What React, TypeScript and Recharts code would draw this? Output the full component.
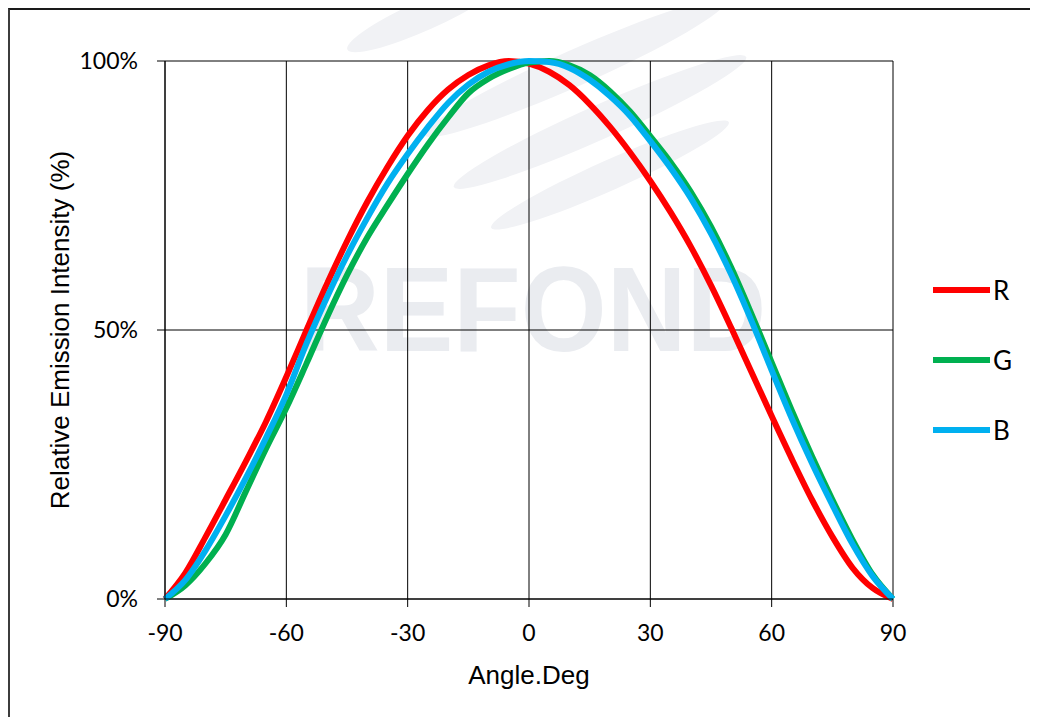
import React from "react";
import { LineChart, Line, XAxis, YAxis, CartesianGrid, Label } from "recharts";

// angle in degrees, intensity in % of peak
const angles = [
  -90, -85, -80, -75, -70, -65, -60, -55, -50, -45, -40, -35, -30, -25, -20, -15, -10, -5,
  0, 5, 10, 15, 20, 25, 30, 35, 40, 45, 50, 55, 60, 65, 70, 75, 80, 85, 90,
];
const red = [
  0, 4.8, 11.5, 18.5, 25.6, 33, 41.3, 50, 58.5, 66.5, 73.8, 80.3, 86.1, 90.9, 94.7, 97.4, 99.2, 100,
  99.5, 98, 95.5, 92, 87.8, 83, 77.7, 71.9, 65.5, 58.3, 50.4, 42.2, 34, 26, 18.4, 11.6, 5.8, 2, 0,
];
const green = [
  0, 2.5, 6.6, 12, 20, 28, 35.5, 43.8, 52.3, 60.2, 67.2, 73.2, 79, 84.5, 89.5, 94, 96.7, 98.5,
  99.7, 100, 99.2, 97.4, 94.4, 90.6, 86, 81.2, 75.7, 69.2, 61.6, 53, 44, 35, 26.5, 18.5, 11, 4.5, 0,
];
const blue = [
  0, 3.5, 9, 15.5, 22.5, 30, 38, 47.5, 56, 63.8, 70.8, 77.2, 82.7, 87.7, 92.2, 95.6, 98, 99.4,
  100, 99.8, 98.7, 96.5, 93.5, 89.8, 85.1, 80.1, 74.5, 67.9, 60.3, 51.7, 42.5, 33.5, 25.2, 17.5, 10.2, 4.2, 0,
];
const xTicks = [-90, -60, -30, 0, 30, 60, 90];
const yTicks = [0, 50, 100];

const series = [
  { key: "R", color: "#ff0000" },
  { key: "G", color: "#00b050" },
  { key: "B", color: "#00b0f0" },
];

const data = angles.map((angle, i) => ({ angle, R: red[i], G: green[i], B: blue[i] }));

const tickFont = { fill: "#000", fontSize: 23, fontFamily: "Lato, 'Noto Sans', sans-serif" };
const titleFont = "'Liberation Sans', Arial, sans-serif";

// light swooshes of the logo watermark
const swooshes = [
  { left: 330, top: -10, w: 170, h: 30 },
  { left: 400, top: 40, w: 330, h: 36 },
  { left: 430, top: 95, w: 320, h: 34 },
  { left: 470, top: 150, w: 260, h: 30 },
];

function YTitle({ viewBox }: any) {
  const x = viewBox.x + 5;
  const y = viewBox.y + viewBox.height / 2;
  return (
    <text
      x={x}
      y={y}
      transform={`rotate(-90, ${x}, ${y})`}
      textAnchor="middle"
      dominantBaseline="central"
      fontSize={26}
      fontFamily={titleFont}
      fill="#000"
    >
      Relative Emission Intensity (%)
    </text>
  );
}

export default function App() {
  return (
    <div
      style={{
        position: "relative",
        width: 1030,
        height: 709,
        boxSizing: "border-box",
        borderTop: "2px solid #1a1a1a",
        borderLeft: "2px solid #3c3c3c",
        background: "#fff",
        overflow: "hidden",
      }}
    >
      {swooshes.map((s, i) => (
        <div
          key={i}
          style={{
            position: "absolute",
            left: s.left,
            top: s.top,
            width: s.w,
            height: s.h,
            borderRadius: "50%",
            background: "#f1f2f5",
            transform: "rotate(-24deg)",
          }}
        />
      ))}
      <div
        style={{
          position: "absolute",
          left: 290,
          top: 239,
          fontFamily: titleFont,
          fontWeight: 700,
          fontSize: 120,
          lineHeight: 1,
          color: "#eaecf0",
          transform: "scaleX(0.92)",
          transformOrigin: "left top",
          whiteSpace: "nowrap",
        }}
      >
        REFOND
      </div>

      <LineChart
        width={1028}
        height={707}
        data={data}
        margin={{ top: 51, right: 145, bottom: 18, left: 45 }}
      >
        <CartesianGrid stroke="#000" strokeWidth={1} />
        <XAxis
          type="number"
          dataKey="angle"
          domain={[-90, 90]}
          ticks={xTicks}
          interval={0}
          height={100}
          stroke="#000"
          tickSize={8}
          tickMargin={18}
          tick={tickFont}
        >
          <Label
            value="Angle.Deg"
            position="insideBottom"
            offset={15}
            style={{ fontSize: 26, fontFamily: titleFont, fill: "#000" }}
          />
        </XAxis>
        <YAxis
          type="number"
          domain={[0, 100]}
          ticks={yTicks}
          interval={0}
          width={110}
          stroke="#000"
          tickSize={8}
          tickMargin={19}
          tick={tickFont}
          tickFormatter={(v) => `${v}%`}
        >
          <Label content={YTitle} />
        </YAxis>
        {series.map((s) => (
          <Line
            key={s.key}
            type="monotone"
            dataKey={s.key}
            stroke={s.color}
            strokeWidth={6}
            dot={false}
            activeDot={false}
            isAnimationActive={false}
          />
        ))}
      </LineChart>

      <div style={{ position: "absolute", left: 923, top: 245 }}>
        {series.map((s) => (
          <div key={s.key} style={{ display: "flex", alignItems: "center", height: 70 }}>
            <span style={{ display: "inline-block", width: 57, height: 6, background: s.color }} />
            <span
              style={{
                marginLeft: 3,
                fontSize: 26,
                fontFamily: "Lato, 'Noto Sans', sans-serif",
                color: "#000",
              }}
            >
              {s.key}
            </span>
          </div>
        ))}
      </div>
    </div>
  );
}
